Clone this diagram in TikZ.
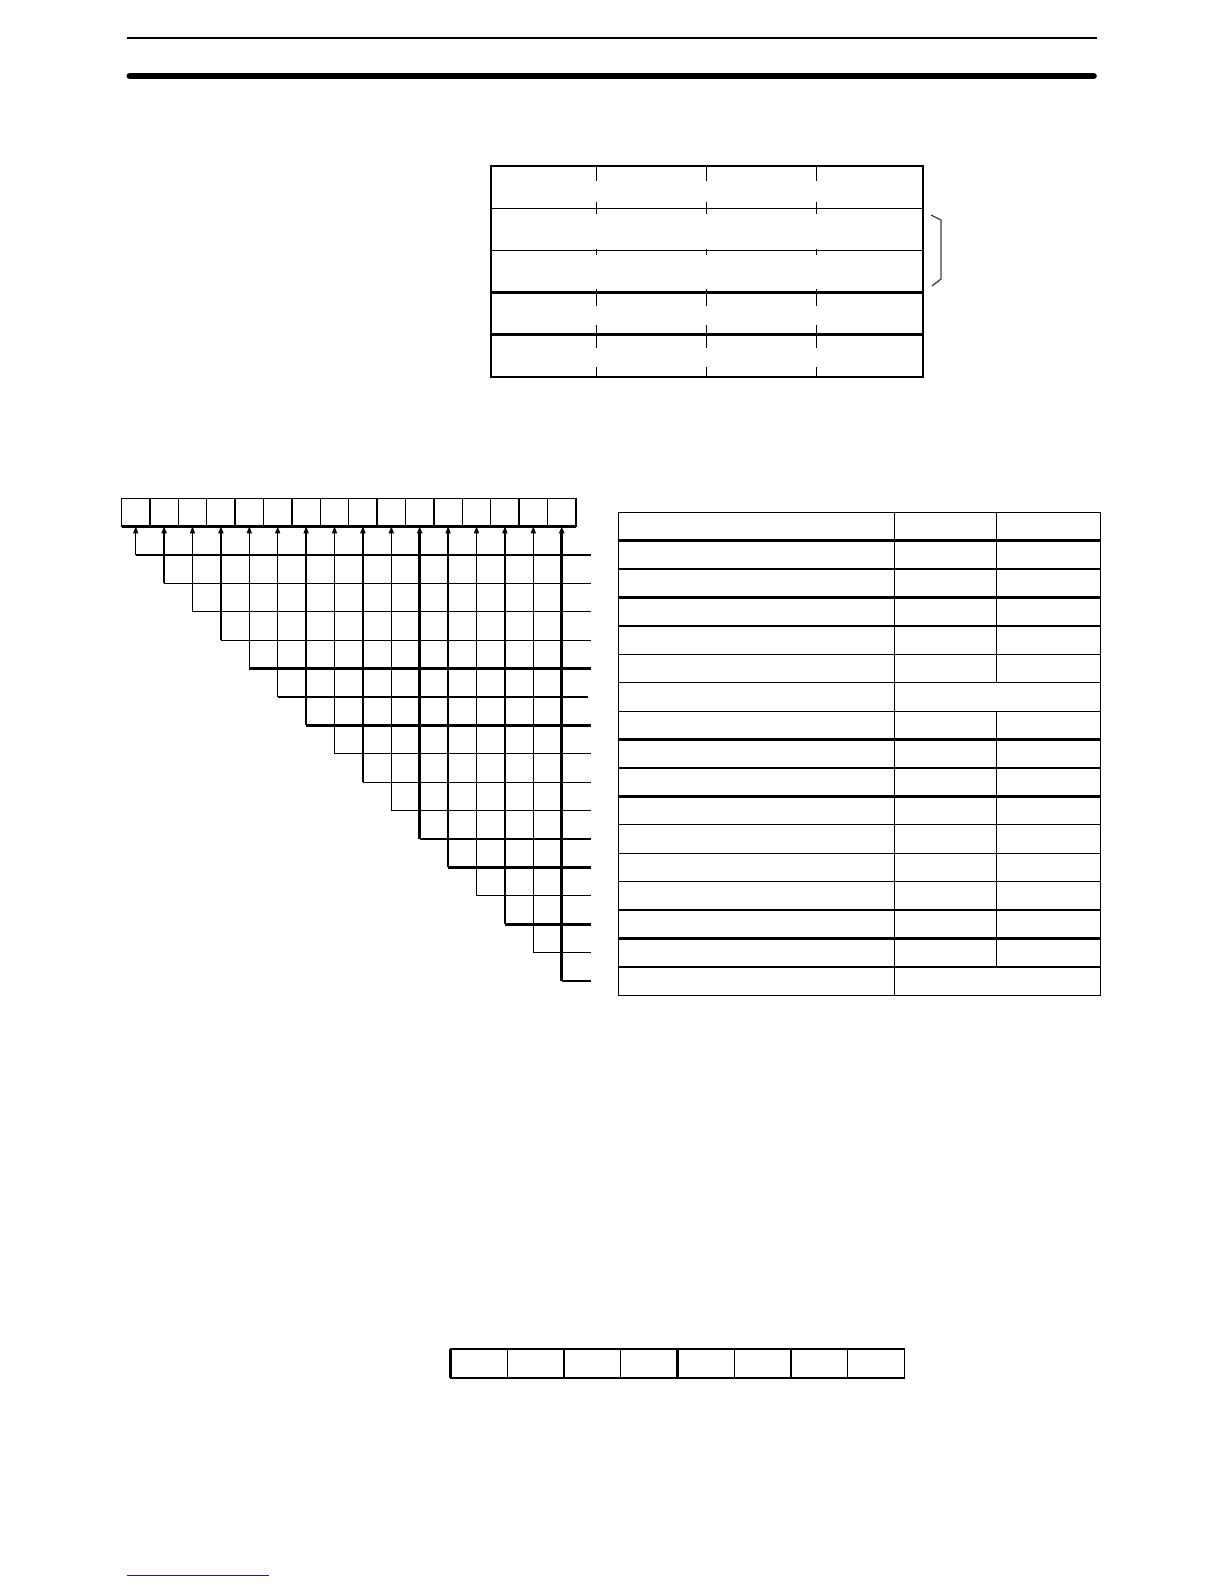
\documentclass[tikz,border=0pt]{standalone}
\usetikzlibrary{arrows.meta}
\definecolor{linkblue}{RGB}{30,30,140}
\begin{document}
\begin{tikzpicture}[x=1pt,y=-1pt,
  lnthin/.style={line width=1.3pt},
  lnthick/.style={line width=2.7pt},
  bitbox/.style={draw,line width=1.3pt,minimum width=28.4pt,minimum height=28pt,inner sep=0pt,outer sep=0pt},
  bytebox/.style={draw,line width=1.3pt,minimum width=56.7pt,minimum height=29pt,inner sep=0pt,outer sep=0pt},
  uparrow/.style={-{Triangle[length=7pt,width=5pt]}}]
\useasboundingbox (0,0) rectangle (1224,1584);
\fill[white] (0,0) rectangle (1224,1584);
% header rules
\draw[line width=2pt] (126.7,37.8) -- (1096.6,37.8);
\draw[line width=6pt,line cap=round] (129.5,76) -- (1093.8,76);
% top table
\draw[lnthin] (491,166) rectangle (923,377);
\foreach \y in {208.2,250.4} \draw[lnthin] (491,\y) -- (923,\y);
\foreach \y in {292.6,334.8} \draw[lnthick] (491,\y) -- (923,\y);
\foreach \x in {596.3,706.3,816.3}
  \foreach \a/\b in {166/181,202/214,249/255,289/306,325/348,367/377}
    \draw[lnthin] (\x,\a) -- (\x,\b);
\draw[line width=1.3pt,color=black!75] (931,215) -- (941,220) -- (941,279) -- (932,286);
% bit boxes
\foreach \i in {1,...,16}
  \node[bitbox] (b\i) at ({121.5+(\i-0.5)*28.4},512.3) {};
\draw[lnthick] (b4.north east) -- (b4.south east);
\draw[lnthick] (b11.north east) -- (b11.south east);
\draw[lnthick] (b1.south west) -- (b16.south east);
\foreach \i in {1,...,16} {
  \coordinate (r\i) at ({121.5+(\i-0.5)*28.4},{555+(\i-1)*28.4});
  \coordinate (e\i) at (590.7,{555+(\i-1)*28.4});
}
\coordinate (e6) at (588,{555+5*28.4});
\foreach \i in {1,3,5,6,7,8,10,12,13,14,15}
  \draw[lnthin,uparrow] (r\i) -- (b\i.south);
\foreach \i in {2,4,9,11,16}
  \draw[lnthick,uparrow] (r\i) -- (b\i.south);
\foreach \i in {1,2,3,4,6,8,9,10,11,13,15,16}
  \draw[lnthin] (r\i) -- (e\i);
\foreach \i in {5,7,12,14}
  \draw[lnthick] (r\i) -- (e\i);
% right table
\foreach \k in {0,2,4,5,6,7,9,11,12,13,14,16,17}
  \draw[lnthin] (618.3,{512.3+\k*28.41}) -- (1100.5,{512.3+\k*28.41});
\foreach \k in {1,3,8,10,15}
  \draw[lnthick] (618.3,{512.3+\k*28.41}) -- (1100.5,{512.3+\k*28.41});
\foreach \x in {618.3,894.7,1100.5}
  \draw[lnthin] (\x,512.3) -- (\x,{512.3+17*28.41});
\draw[lnthin] (996.3,512.3) -- (996.3,{512.3+6*28.41});
\draw[lnthin] (996.3,{512.3+7*28.41}) -- (996.3,{512.3+16*28.41});
% byte boxes
\foreach \i in {1,...,8}
  \node[bytebox] (c\i) at ({450.7+(\i-0.5)*56.7},1363.5) {};
\draw[lnthick] (c1.north west) -- (c1.south west);
\draw[lnthick] (c4.north east) -- (c4.south east);
% footer link line
\draw[linkblue,line width=1.5pt] (127,1575.5) -- (269,1575.5);
\end{tikzpicture}
\end{document}
